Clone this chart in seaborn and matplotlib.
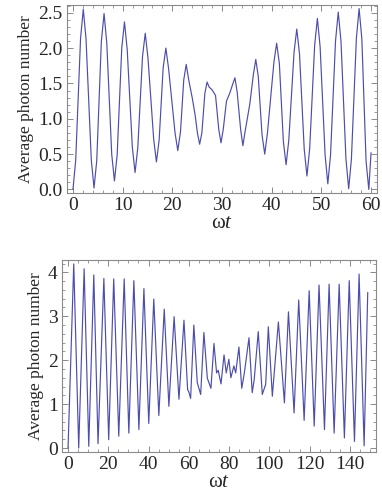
import matplotlib
matplotlib.use('Agg')
import matplotlib.pyplot as plt
from matplotlib.ticker import MultipleLocator, FormatStrFormatter
import seaborn as sns

# upper panel: points (extrema, their flanks, shoulders)
top_t = [0, 0.55, 1.53, 2.08, 2.63, 3.69, 4.24, 4.79, 5.71, 6.26,
         6.81, 7.8, 8.35, 8.9, 9.82, 10.37, 10.92, 11.95, 12.5, 13.05,
         14.0, 14.55, 15.1, 16.25, 16.8, 17.35, 18.15, 18.7, 19.25, 20.55,
         21.1, 21.65, 22.3, 22.8, 23.3, 24.0, 24.6, 25.05, 25.5, 25.95,
         26.55, 27.0, 27.4, 28.0, 28.7, 29.35, 29.8, 30.25, 30.9, 31.6,
         32.2, 32.6, 33.05, 33.75, 34.2, 34.65, 35.6, 36.3, 36.8, 37.3,
         38.05, 38.6, 39.15, 40.45, 41.0, 41.55, 42.35, 42.9, 43.45, 44.5,
         45.05, 45.6, 46.55, 47.1, 47.65, 48.65, 49.2, 49.75, 50.75, 51.3,
         51.85, 52.85, 53.4, 53.95, 54.95, 55.5, 56.05, 57.05, 57.6, 58.15,
         59.0, 59.55, 60.0]
top_n = [0, 0.41, 2.14, 2.55, 2.13, 0.42, 0.02, 0.41, 2.09, 2.49,
         2.07, 0.5, 0.12, 0.49, 2.0, 2.37, 1.98, 0.6, 0.24, 0.59,
         1.88, 2.21, 1.86, 0.71, 0.39, 0.7, 1.72, 2.0, 1.71, 0.8,
         0.55, 0.82, 1.55, 1.77, 1.55, 1.3, 1.05, 0.8, 0.64, 0.8,
         1.36, 1.52, 1.45, 1.41, 1.33, 0.85, 0.66, 0.85, 1.25, 1.37,
         1.5, 1.58, 1.38, 0.85, 0.62, 0.82, 1.21, 1.62, 1.84, 1.6,
         0.78, 0.5, 0.8, 1.8, 2.07, 1.78, 0.68, 0.35, 0.7, 1.94,
         2.27, 1.92, 0.57, 0.19, 0.58, 2.04, 2.42, 2.02, 0.49, 0.08,
         0.49, 2.1, 2.51, 2.1, 0.43, 0.01, 0.43, 2.14, 2.56, 2.13,
         0.4, 0.0, 0.52]

# lower panel
bot_t = [0, 2.84, 5.3, 8.0, 10.3, 12.8, 14.9, 17.8, 20.2, 22.7,
         25.2, 27.9, 30.2, 32.7, 35.2, 37.7, 40.1, 42.6, 45.1, 47.8,
         50.1, 52.7, 55.1, 57.6, 59.4, 60.0, 60.9, 62.5, 64.2, 65.9,
         67.5, 69.2, 71.0, 72.5, 73.8, 74.6, 76.0, 77.5, 78.6, 79.9,
         80.9, 82.4, 83.3, 84.9, 86.3, 87.6, 89.9, 91.5, 92.5, 94.5,
         96.5, 98.2, 99.5, 101.5, 104.5, 107.5, 109.5, 112.3, 114.6, 117.3,
         119.8, 122.3, 124.7, 127.4, 129.7, 132.2, 134.7, 137.3, 139.7, 142.3,
         144.6, 147.1, 148.9]
bot_n = [0, 4.19, 0.0, 4.08, 0.04, 3.94, 0.1, 3.86, 0.19, 3.85,
         0.27, 3.85, 0.34, 3.81, 0.42, 3.63, 0.56, 3.39, 0.74, 3.16,
         0.95, 2.99, 1.11, 2.91, 1.33, 1.28, 1.13, 2.8, 1.49, 1.22,
         2.63, 1.59, 1.36, 2.38, 1.71, 1.77, 1.46, 2.12, 1.71, 2.02,
         1.6, 1.87, 1.71, 2.3, 1.36, 1.71, 2.51, 1.26, 1.56, 2.65,
         1.22, 1.45, 2.76, 1.18, 2.87, 1.03, 3.1, 0.8, 3.37, 0.63,
         3.58, 0.5, 3.71, 0.42, 3.73, 0.34, 3.73, 0.23, 3.81, 0.15,
         3.96, 0.05, 3.54]

line_color = (0.3, 0.3, 0.68)
frame_color = '#8a8a8a'

sns.set_style('ticks')
plt.rcParams['font.family'] = ['Liberation Serif', 'DejaVu Serif']
plt.rcParams['mathtext.fontset'] = 'custom'
plt.rcParams['mathtext.it'] = 'Liberation Serif:italic'
plt.rcParams['mathtext.rm'] = 'Liberation Serif'

fig = plt.figure(figsize=(3.82, 5.0), dpi=100)
ax1 = fig.add_axes([67 / 382, 1 - 193 / 500, 310 / 382, 188 / 500])
ax2 = fig.add_axes([62 / 382, 1 - 452 / 500, 314 / 382, 192 / 500])

sns.lineplot(x=top_t, y=top_n, ax=ax1, color=line_color, lw=0.85, estimator=None)
sns.lineplot(x=bot_t, y=bot_n, ax=ax2, color=line_color, lw=0.85, estimator=None)

ax1.set_xlim(-1.2, 61.2)
ax1.set_ylim(-0.05, 2.61)
ax1.xaxis.set_major_locator(MultipleLocator(10))
ax1.xaxis.set_minor_locator(MultipleLocator(2))
ax1.yaxis.set_major_locator(MultipleLocator(0.5))
ax1.yaxis.set_minor_locator(MultipleLocator(0.1))
ax1.yaxis.set_major_formatter(FormatStrFormatter('%.1f'))

ax2.set_xlim(-3, 153)
ax2.set_ylim(-0.09, 4.28)
ax2.xaxis.set_major_locator(MultipleLocator(20))
ax2.xaxis.set_minor_locator(MultipleLocator(5))
ax2.yaxis.set_major_locator(MultipleLocator(1))
ax2.yaxis.set_minor_locator(MultipleLocator(0.2))

for ax in (ax1, ax2):
    ax.tick_params(which='both', direction='in', top=True, right=True,
                   color=frame_color, labelsize=14, pad=3)
    ax.tick_params(which='major', length=4, width=0.7)
    ax.tick_params(which='minor', length=2, width=0.6)
    for s in ax.spines.values():
        s.set_color(frame_color)
        s.set_linewidth(0.8)
    ax.set_ylabel('Average photon number', fontsize=12.5, labelpad=3)
    ax.set_xlabel('ω$t$', fontsize=15, labelpad=0)

fig.savefig('out.png', dpi=100)
